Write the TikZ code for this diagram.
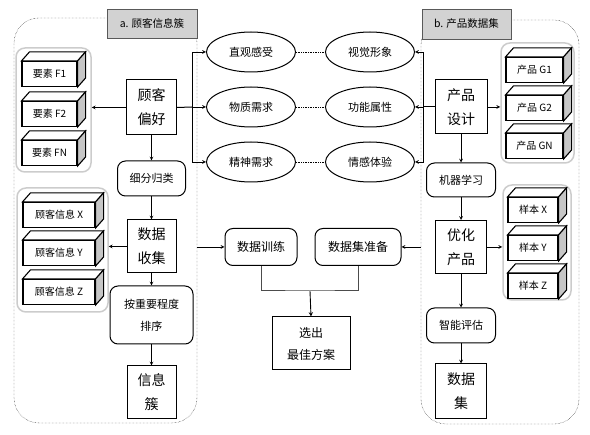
\documentclass[tikz,border=0pt]{standalone}
\usepackage{fontspec}
\setmainfont{Noto Sans CJK SC}
\usepackage{tikz}
\usetikzlibrary{shapes,arrows,positioning}

\tikzset{
  cluster/.style={draw, densely dotted, rounded corners=25pt},
  title/.style={draw=gray!70!black, fill=gray!35, inner sep=0pt, font=\fontsize{10.5}{12}\selectfont},
  grp/.style={draw=gray!40, line width=1.5pt, rounded corners=9pt, inner sep=0pt},
  cube/.style={draw, line width=1.1pt, fill=white, minimum height=25pt, inner sep=0pt, font=\fontsize{10}{12}\selectfont},
  bigbox/.style={draw, line width=1pt, inner sep=0pt, align=center, font=\fontsize{14}{24}\selectfont},
  stepbox/.style={draw, line width=1pt, rounded corners=8pt, inner sep=0pt, align=center, font=\fontsize{11}{22}\selectfont},
  oval/.style={draw, line width=1pt, ellipse, minimum width=89pt, minimum height=40pt, inner sep=0pt, font=\fontsize{11}{12}\selectfont},
  conn/.style={->, >=stealth, line width=0.7pt}
}

\newcommand{\cubefaces}[1]{
  \draw[line width=1.1pt, fill=white] (#1.north west) -- ++(8pt,9pt) -- ([shift={(8pt,9pt)}]#1.north east) -- (#1.north east) -- cycle;
  \draw[line width=1.1pt, fill=gray!45] (#1.north east) -- ++(8pt,9pt) -- ([shift={(8pt,9pt)}]#1.south east) -- (#1.south east) -- cycle;
}

\begin{document}
\begin{tikzpicture}[x=1pt, y=-1pt]
\useasboundingbox (0,0) rectangle (590,435);

\node[cluster, minimum width=183pt, minimum height=405pt] (clA) at (105.5,220.5) {};
\node[cluster, minimum width=158pt, minimum height=404pt] (clB) at (500,222) {};
\node[title, minimum width=90pt, minimum height=29pt] (tA) at (152,23.5) {a. 顾客信息簇};
\node[title, minimum width=89pt, minimum height=30pt] (tB) at (466.5,24) {b. 产品数据集};

\node[grp, minimum width=75pt, minimum height=124pt] (grpF) at (53.5,110) {};
\node[grp, minimum width=91pt, minimum height=124pt] (grpC) at (62.5,250) {};
\node[grp, minimum width=73pt, minimum height=120pt] (grpG) at (537.5,103) {};
\node[grp, minimum width=68pt, minimum height=115pt] (grpS) at (537,242.5) {};

\foreach \t/\y [count=\i] in {要素 F1/74, 要素 F2/114, 要素 FN/153} {
  \node[cube, minimum width=55pt] (f\i) at (49.5,\y) {\t};
  \cubefaces{f\i}
}
\foreach \t/\y [count=\i] in {顾客信息 X/215, 顾客信息 Y/253, 顾客信息 Z/292} {
  \node[cube, minimum width=72pt] (c\i) at (59,\y) {\t};
  \cubefaces{c\i}
}
\foreach \t/\y [count=\i] in {产品 G1/70, 产品 G2/108, 产品 GN/146} {
  \node[cube, minimum width=57pt] (g\i) at (534.5,\y) {\t};
  \cubefaces{g\i}
}
\foreach \t/\y [count=\i] in {样本 X/210, 样本 Y/248, 样本 Z/286} {
  \node[cube, minimum width=50pt] (s\i) at (533,\y) {\t};
  \cubefaces{s\i}
}

\node[bigbox, minimum width=50pt, minimum height=55pt] (pref) at (151.5,107.5) {顾客\\偏好};
\node[stepbox, minimum width=68pt, minimum height=35pt] (classify) at (151.5,178.5) {细分归类};
\node[bigbox, minimum width=49pt, minimum height=53pt] (collect) at (151.5,246.5) {数据\\收集};
\node[stepbox, minimum width=83pt, minimum height=58pt] (rank) at (151.5,315) {按重要程度\\排序};
\node[bigbox, minimum width=49pt, minimum height=53pt] (infocl) at (151.5,392.5) {信息\\簇};

\node[bigbox, minimum width=52pt, minimum height=54pt] (design) at (461,107) {产品\\设计};
\node[stepbox, minimum width=69pt, minimum height=34pt] (learn) at (461,180) {机器学习};
\node[bigbox, minimum width=51pt, minimum height=53pt] (opt) at (461,247) {优化\\产品};
\node[stepbox, minimum width=69pt, minimum height=35pt] (eval) at (461,325.5) {智能评估};
\node[bigbox, minimum width=51pt, minimum height=55pt] (dataset) at (461,391.5) {数据\\集};

\node[oval] (e1) at (251,52) {直观感受};
\node[oval] (e2) at (251,107) {物质需求};
\node[oval] (e3) at (251,162) {精神需求};
\node[oval] (v1) at (370,52) {视觉形象};
\node[oval] (v2) at (370,107) {功能属性};
\node[oval] (v3) at (370,162) {情感体验};

\node[stepbox, font=\fontsize{12}{14}\selectfont, minimum width=72pt, minimum height=37pt] (train) at (261,247) {数据训练};
\node[stepbox, font=\fontsize{12}{14}\selectfont, minimum width=86pt, minimum height=37pt] (prep) at (358,247) {数据集准备};
\node[bigbox, font=\fontsize{12}{22}\selectfont, minimum width=78pt, minimum height=53pt] (best) at (311,343.5) {选出\\最佳方案};

\coordinate (busL) at (192,107);
\coordinate (busR) at (423,107);
\coordinate (join) at (310,291);

\draw[line width=1pt] (pref.east) -- (busL);
\foreach \n in {e1,e2,e3}
  \draw[conn] (busL) |- (\n.west);
\draw[line width=1pt] (design.west) -- (busR);
\foreach \n in {v1,v2,v3}
  \draw[conn] (busR) |- (\n.east);
\draw[densely dotted, line width=0.7pt] (e1) -- (v1);
\draw[densely dotted, line width=0.7pt] (e2) -- (v2);
\draw[densely dotted, line width=0.7pt] (e3) -- (v3);

\draw[conn] (pref.west) -- (pref.west -| grpF.east);
\draw[conn] (collect.west) -- (collect.west -| grpC.east);
\draw[conn] (design.east) -- (design.east -| grpG.west);
\draw[conn] (opt.east) -- (opt.east -| grpS.west);

\draw[conn] (pref) -- (classify);
\draw[conn] (classify) -- (collect);
\draw[conn] (collect) -- (rank);
\draw[conn] (rank) -- (infocl);
\draw[conn] (design) -- (learn);
\draw[conn] (learn) -- (opt);
\draw[conn] (opt) -- (eval);
\draw[conn] (eval) -- (dataset);

\draw[conn] (train.west -| clA.east) -- (train.west);
\draw[conn] (prep.east -| clB.west) -- (prep.east);
\draw[gray!60!black, line width=1pt] (train.south) |- (join) -| (prep.south);
\draw[conn, line width=0.9pt] (join) -- (best.north);
\end{tikzpicture}
\end{document}
